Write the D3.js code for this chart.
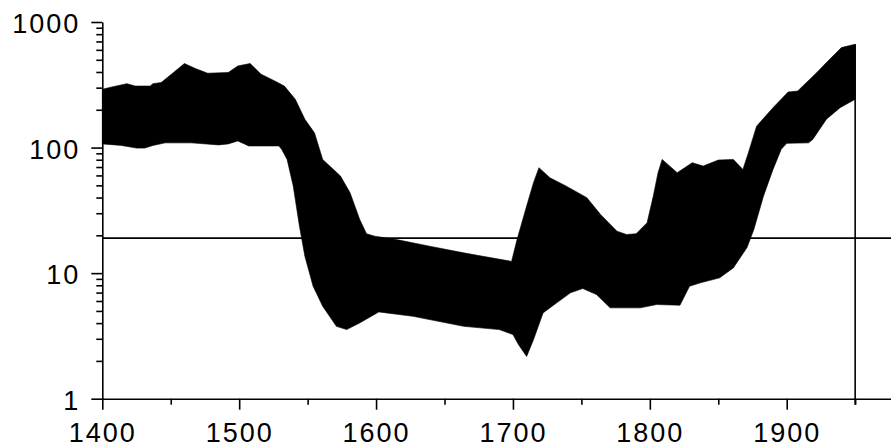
<!DOCTYPE html>
<html><head><meta charset="utf-8">
<script src="https://cdn.jsdelivr.net/npm/d3@7"></script>
<style>html,body{margin:0;padding:0;background:#fff;} svg{display:block;}</style>
</head><body><svg id="chart" width="891" height="448"></svg>
<script>
// Upper bound of the band
const upperYears = [1400,1407,1418,1424,1435,1437,1443,1452,1460,1468,1477,1492,1499,1508,1516,1526,1533,1541,1548,1555,1561,1574,1581,1588,1593,1599,1615,1639,1664,1699,1703,1710,1715,1719,1727,1739,1754,1764,1776,1783,1790,1798,1802.5,1806,1809,1820,1831,1839,1850,1861,1868,1872,1878,1890,1901,1908,1922,1929,1940,1950];
const upperValues = [291,304,323,309,309,323,329,396,467,426,391,396,447,467,384,339,309,242,168,131,80.5,59.3,43.7,26.8,20.6,19.7,18.5,16.4,14.5,12.4,18.5,34.2,52.5,69.2,57.5,49.3,39.9,29.3,21.6,20.3,20.6,25.2,41,63.1,80.5,63.1,75.8,71.2,79.5,80.5,67,91,148,208,277,282,396,475,626,665];
// Lower bound of the band
const lowerYears = [1400,1414,1425,1431,1437,1446,1465,1485,1492,1499,1507,1529,1531,1535,1539.5,1544,1548,1554,1561,1571,1578.5,1588,1602,1627,1664,1690,1700,1704,1710,1715,1722,1732,1742,1751,1761,1771,1793,1805,1822,1829,1837,1851,1861,1871,1876,1883,1890,1896,1900,1916,1919,1929,1939,1950];
const lowerValues = [107,104,99,99,104,109,109,105,107,113,103,103,97,80.5,49.3,23.7,13.6,7.86,5.45,3.77,3.55,4.01,4.91,4.53,3.77,3.55,3.24,2.7,2.17,2.95,4.82,5.8,6.97,7.54,6.75,5.29,5.29,5.62,5.55,7.86,8.37,9.17,11,16,22.3,41,67,96.8,108,109,116,168,208,242];

const yMajorTicks = [1,10,100,1000];
const yMinorTicks = [2,3,4,5,6,7,8,9,20,30,40,50,60,70,80,90,200,300,400,500,600,700,800,900];
const xMajorTicks = [1400,1500,1600,1700,1800,1900,2000];
const xMinorTicks = [1450,1550,1650,1750,1850,1950];
const referenceLevel = 19;
const referenceYear = 1950;

const svg = d3.select("#chart");
const x = d3.scaleLinear().domain([1400, 2000]).range([102.3, 923.6]);
const y = d3.scaleLog().domain([1, 1000]).range([398.7, 22]);

// band polygon: upper forward, lower backward
const upperPts = upperYears.map((yr, i) => [yr, upperValues[i]]);
const lowerPts = lowerYears.map((yr, i) => [yr, lowerValues[i]]).reverse();
const poly = upperPts.concat(lowerPts);
const line = d3.line().x(d => x(d[0])).y(d => y(d[1]));
svg.append("path").attr("d", line(poly) + "Z").attr("fill", "#000").attr("stroke", "#000").attr("stroke-width", 0.6);

const lw = 1.6;
// reference horizontal line
svg.append("line")
  .attr("x1", x(1400)).attr("x2", 891)
  .attr("y1", y(referenceLevel)).attr("y2", y(referenceLevel))
  .attr("stroke", "#000").attr("stroke-width", lw);
// vertical line at reference year
svg.append("line")
  .attr("x1", x(referenceYear)).attr("x2", x(referenceYear))
  .attr("y1", y(upperValues[upperValues.length - 1])).attr("y2", y(1) + 6)
  .attr("stroke", "#000").attr("stroke-width", lw);

const font = "'Liberation Sans', Arial, sans-serif";

// Y axis
const gy = svg.append("g").attr("transform", `translate(${x(1400)},0)`);
gy.call(d3.axisLeft(y).tickValues(yMajorTicks).tickSize(11).tickSizeOuter(0).tickFormat(d3.format("d")));
const gyMinor = svg.append("g").attr("transform", `translate(${x(1400)},0)`);
gyMinor.call(d3.axisLeft(y).tickValues(yMinorTicks).tickSize(6).tickSizeOuter(0).tickFormat(""));
gyMinor.select(".domain").remove();

// X axis
const gx = svg.append("g").attr("transform", `translate(0,${y(1)})`);
gx.call(d3.axisBottom(x).tickValues(xMajorTicks).tickSize(11).tickSizeOuter(0).tickFormat(d3.format("d")));
const gxMinor = svg.append("g").attr("transform", `translate(0,${y(1)})`);
gxMinor.call(d3.axisBottom(x).tickValues(xMinorTicks).tickSize(6).tickSizeOuter(0).tickFormat(""));
gxMinor.select(".domain").remove();

svg.selectAll(".domain, .tick line").attr("stroke", "#000").attr("stroke-width", lw);
svg.selectAll(".tick text").attr("fill", "#000").style("font-family", font).style("font-size", "27px").style("letter-spacing", "2px");
gy.selectAll(".tick text").attr("x", -22).attr("dy", "0.39em");
gx.selectAll(".tick text").attr("y", 43.3).attr("dy", 0);
</script></body></html>
